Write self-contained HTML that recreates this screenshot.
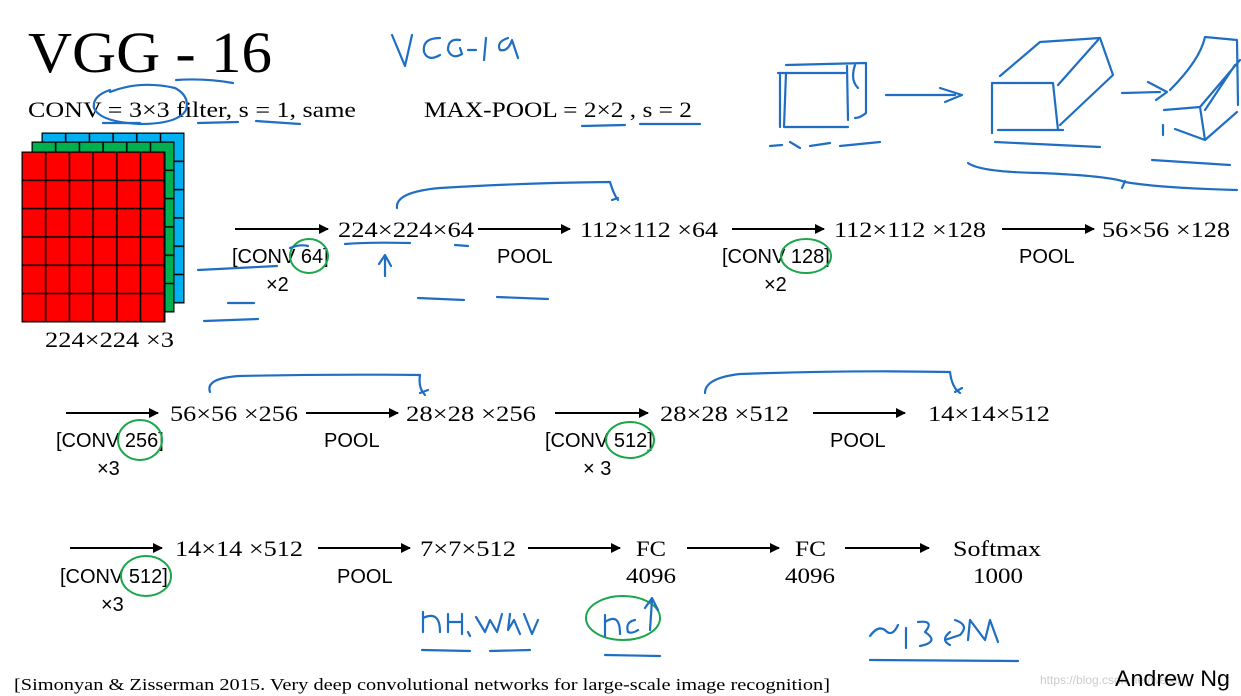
<!DOCTYPE html>
<html><head><meta charset="utf-8"><style>
body{margin:0;background:#fff}
svg{display:block}
.s{font-family:"Liberation Serif",serif;fill:#000}
.a{font-family:"Liberation Sans",sans-serif;fill:#000}
.h{fill:none;stroke:#1f6ec2;stroke-width:2.2;stroke-linecap:round;stroke-linejoin:round}
.g{fill:none;stroke:#1aa64a;stroke-width:2}
</style></head><body>
<svg width="1241" height="696" viewBox="0 0 1241 696">
<defs><marker id="ar" markerWidth="10" markerHeight="10" refX="9" refY="5" orient="auto" markerUnits="userSpaceOnUse"><path d="M0,0 L10,5 L0,10 z" fill="#000"/></marker>
<pattern id="pb" x="42" y="133" width="23.7" height="28.3" patternUnits="userSpaceOnUse"><rect width="23.7" height="28.3" fill="#00b0f0" stroke="#000" stroke-width="1.5"/></pattern>
<pattern id="pg" x="32" y="142" width="23.7" height="28.3" patternUnits="userSpaceOnUse"><rect width="23.7" height="28.3" fill="#00b050" stroke="#000" stroke-width="1.5"/></pattern>
<pattern id="pr" x="22" y="152" width="23.7" height="28.3" patternUnits="userSpaceOnUse"><rect width="23.7" height="28.3" fill="#ff0000" stroke="#000" stroke-width="1.5"/></pattern>
</defs>
<text class="s" x="28" y="72" font-size="58" textLength="244" lengthAdjust="spacingAndGlyphs">VGG - 16</text>
<text class="s" x="28" y="117" font-size="22" textLength="328" lengthAdjust="spacingAndGlyphs">CONV = 3×3 filter, s = 1, same</text>
<text class="s" x="424" y="117" font-size="22" textLength="268" lengthAdjust="spacingAndGlyphs">MAX-POOL = 2×2 , s = 2</text>
<rect x="42" y="133" width="142" height="170" fill="url(#pb)" stroke="#000"/>
<rect x="32" y="142" width="142" height="170" fill="url(#pg)" stroke="#000"/>
<rect x="22" y="152" width="143" height="170" fill="url(#pr)" stroke="#000"/>
<text class="s" x="45" y="347" font-size="22" textLength="129" lengthAdjust="spacingAndGlyphs">224×224 ×3</text>
<g stroke="#000" stroke-width="2" marker-end="url(#ar)">
<line x1="235" y1="229" x2="328" y2="229"/><line x1="478" y1="229" x2="570" y2="229"/>
<line x1="732" y1="229" x2="824" y2="229"/><line x1="1002" y1="229" x2="1094" y2="229"/>
<line x1="66" y1="413" x2="158" y2="413"/><line x1="306" y1="413" x2="398" y2="413"/>
<line x1="555" y1="413" x2="648" y2="413"/><line x1="813" y1="413" x2="905" y2="413"/>
<line x1="70" y1="548" x2="162" y2="548"/><line x1="318" y1="548" x2="410" y2="548"/>
<line x1="528" y1="548" x2="620" y2="548"/><line x1="687" y1="548" x2="779" y2="548"/>
<line x1="845" y1="548" x2="929" y2="548"/>
</g>
<g class="s" font-size="22" lengthAdjust="spacingAndGlyphs">
<text x="338" y="237" textLength="136" lengthAdjust="spacingAndGlyphs">224×224×64</text>
<text x="580" y="237" textLength="138" lengthAdjust="spacingAndGlyphs">112×112 ×64</text>
<text x="834" y="237" textLength="152" lengthAdjust="spacingAndGlyphs">112×112 ×128</text>
<text x="1102" y="237" textLength="128" lengthAdjust="spacingAndGlyphs">56×56 ×128</text>
<text x="170" y="421" textLength="128" lengthAdjust="spacingAndGlyphs">56×56 ×256</text>
<text x="406" y="421" textLength="130" lengthAdjust="spacingAndGlyphs">28×28 ×256</text>
<text x="660" y="421" textLength="129" lengthAdjust="spacingAndGlyphs">28×28 ×512</text>
<text x="928" y="421" textLength="122" lengthAdjust="spacingAndGlyphs">14×14×512</text>
<text x="175" y="556" textLength="128" lengthAdjust="spacingAndGlyphs">14×14 ×512</text>
<text x="420" y="556" textLength="96" lengthAdjust="spacingAndGlyphs">7×7×512</text>
<text x="636" y="556" textLength="30" lengthAdjust="spacingAndGlyphs">FC</text>
<text x="626" y="583" textLength="50" lengthAdjust="spacingAndGlyphs">4096</text>
<text x="795" y="556" textLength="31" lengthAdjust="spacingAndGlyphs">FC</text>
<text x="785" y="583" textLength="50" lengthAdjust="spacingAndGlyphs">4096</text>
<text x="953" y="556" textLength="88" lengthAdjust="spacingAndGlyphs">Softmax</text>
<text x="973" y="583" textLength="50" lengthAdjust="spacingAndGlyphs">1000</text>
<text x="14" y="690" font-size="17" textLength="816" lengthAdjust="spacingAndGlyphs">[Simonyan &amp; Zisserman 2015. Very deep convolutional networks for large-scale image recognition]</text>
</g>
<g class="a" font-size="20">
<text x="232" y="263">[CONV 64]</text><text x="266" y="291">×2</text>
<text x="497" y="263">POOL</text>
<text x="722" y="263">[CONV 128]</text><text x="764" y="291">×2</text>
<text x="1019" y="263">POOL</text>
<text x="56" y="447">[CONV 256]</text><text x="97" y="475">×3</text>
<text x="324" y="447">POOL</text>
<text x="545" y="447">[CONV 512]</text><text x="583" y="475">× 3</text>
<text x="830" y="447">POOL</text>
<text x="60" y="583">[CONV 512]</text><text x="101" y="611">×3</text>
<text x="337" y="583">POOL</text>
</g>
<text x="1040" y="684" font-family="Liberation Sans,sans-serif" font-size="12" fill="#ccc">https://blog.csdn.net/weixin_</text>
<text class="a" x="1115" y="686" font-size="22" textLength="115" lengthAdjust="spacingAndGlyphs">Andrew Ng</text>
<ellipse class="g" cx="309" cy="256" rx="19" ry="17"/>
<ellipse class="g" cx="806" cy="256" rx="25" ry="17"/>
<ellipse class="g" cx="140" cy="440" rx="22" ry="20"/>
<ellipse class="g" cx="630" cy="440" rx="24" ry="18"/>
<ellipse class="g" cx="146" cy="576" rx="25" ry="20"/>
<ellipse class="g" cx="623" cy="618" rx="37" ry="22"/>
<g class="h">
<path d="M392 35 L405 66 L412 35 M440 38 Q422 38 424 52 Q428 62 440 55 M460 40 Q448 38 448 50 Q452 60 462 54 L460 48 M468 50 L476 50 M486 38 L484 60 M508 38 Q496 42 500 50 Q508 52 512 40 L518 58"/>
<path d="M176 80 Q205 78 233 83"/>
<path d="M110 92 Q140 80 175 88 Q190 96 186 110 Q178 124 140 124 Q100 122 94 108 Q92 96 110 90"/>
<path d="M103 123 L140 123 M198 123 L238 122 M256 121 L300 124"/>
<path d="M582 126 L625 125 M640 124 L700 124"/>
<path d="M198 270 L277 266"/>
<path d="M228 303 L254 303"/>
<path d="M204 321 L258 319"/>
<path d="M290 248 Q300 244 308 246"/>
<path d="M345 244 Q370 242 410 243 M455 245 L468 246"/>
<path d="M385 276 L385 256 M379 264 L385 255 L391 266"/>
<path d="M418 298 L464 300"/>
<path d="M497 297 L548 299"/>
<path d="M397 208 Q395 192 440 188 Q520 183 610 182 Q614 195 618 200 M612 200 L618 198"/>
<path d="M210 392 Q205 378 240 376 Q330 374 420 375 Q418 388 425 395 M420 393 L428 390"/>
<path d="M705 393 Q705 378 740 374 Q850 370 950 372 Q952 388 960 393 M955 392 L962 388"/>
<path d="M780 75 L780 127 M778 73 L845 73 M786 73 L784 127 L848 127 M847 66 L848 120 M786 65 L866 63 L866 113 Q860 118 855 118 M855 65 Q850 80 858 88"/>
<path d="M886 95 L955 95 M940 88 L962 95 L945 102"/>
<path d="M992 84 L992 133 M992 83 L1053 83 L1058 130 L1063 130 M998 130 L1060 130 M1000 76 L1040 42 L1100 38 L1113 75 L1060 125 M1058 85 L1098 40"/>
<path d="M1122 93 L1160 92 M1148 82 L1167 92 L1156 100"/>
<path d="M1163 125 L1163 135 M1175 129 L1205 140 L1237 112 M1164 110 L1200 107 L1205 140 M1170 90 Q1200 60 1205 37 L1237 40 L1238 105 M1205 110 L1235 65 M1200 107 L1240 60"/>
<path d="M770 146 L782 145 M790 142 L800 148 M810 146 L830 143 M840 146 L880 142"/>
<path d="M995 142 L1100 147"/>
<path d="M1152 160 L1230 165"/>
<path d="M968 163 Q980 172 1040 173 Q1110 176 1125 182 Q1160 188 1237 190"/>
<path d="M1125 181 L1122 188"/>
<path d="M423 632 L423 612 M423 618 Q440 610 440 632 M448 632 L448 614 M448 622 L462 622 M462 614 L462 634 M468 632 L470 636 M476 617 L485 632 L490 620 L497 632 L502 614 M510 614 L508 630 L514 620 L520 634 M524 614 L532 634 L538 620"/>
<path d="M422 650 L470 651 M490 651 L530 650"/>
<path d="M605 636 L605 615 M605 622 Q620 612 620 634 M635 620 Q625 622 628 632 Q632 634 638 630 M650 630 L652 600 M645 608 L652 598 L658 610"/>
<path d="M605 655 L660 656"/>
<path d="M870 636 Q878 625 885 630 Q892 638 898 625 M906 628 L906 648 M918 622 Q935 620 925 632 Q940 642 920 646 M950 632 Q940 640 950 645 M955 620 Q970 625 960 635 L945 640 M968 640 L970 620 L985 640 L990 620 L998 642"/>
<path d="M870 660 L1018 661"/>
</g>
</svg>
</body></html>
